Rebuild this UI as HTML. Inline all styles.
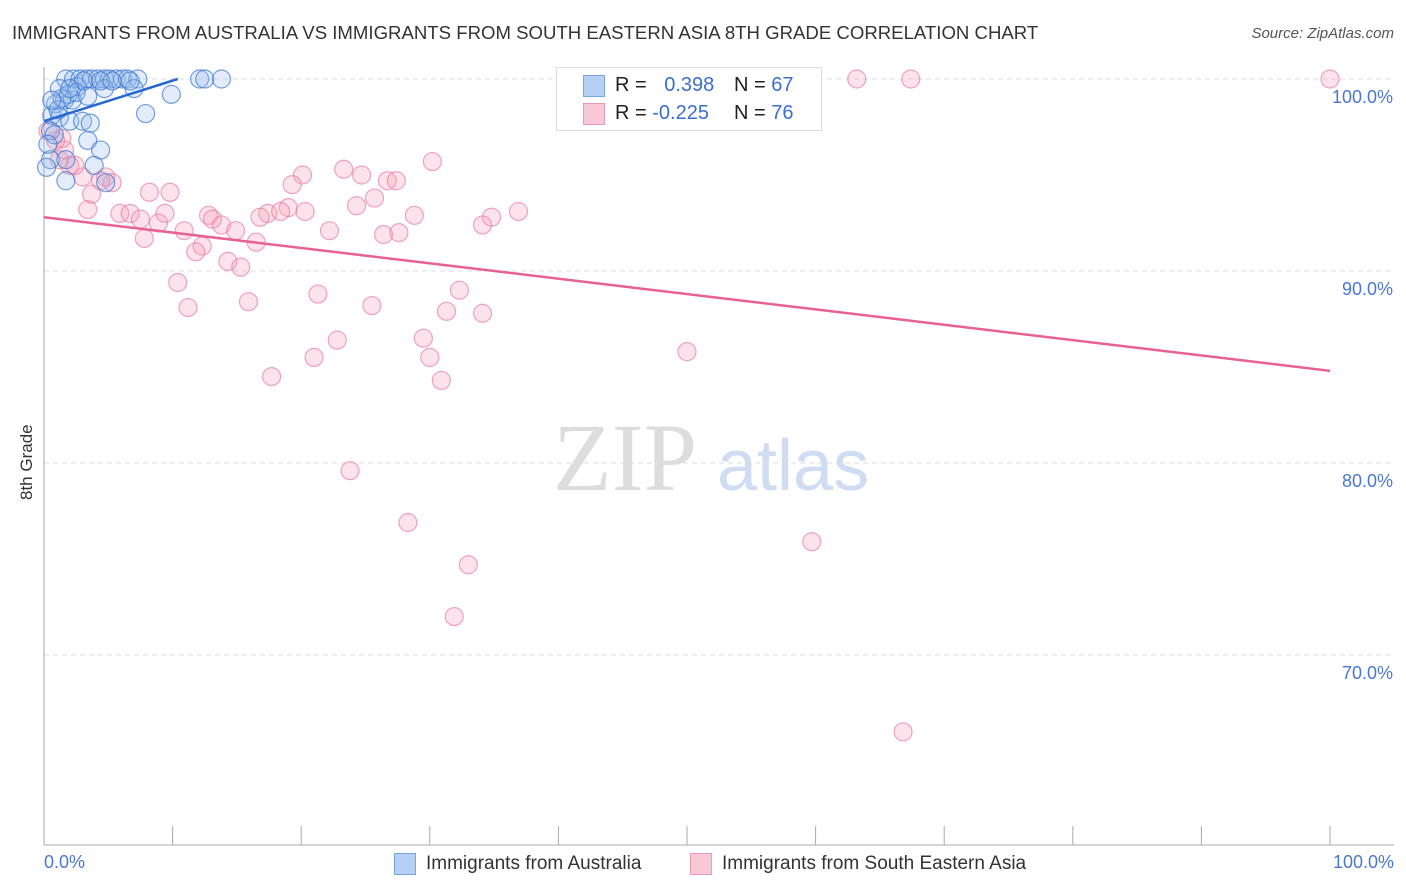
<!DOCTYPE html>
<html><head><meta charset="utf-8">
<style>
body{margin:0;background:#fff;font-family:"Liberation Sans",sans-serif;}
#wrap{position:relative;width:1406px;height:892px;overflow:hidden;}
.t{position:absolute;white-space:nowrap;}
</style></head>
<body>
<div id="wrap">
<div class="t" style="left:12px;top:22px;font-size:18.6px;color:#333;">IMMIGRANTS FROM AUSTRALIA VS IMMIGRANTS FROM SOUTH EASTERN ASIA 8TH GRADE CORRELATION CHART</div>
<div class="t" style="right:12px;top:25px;font-size:15px;color:#555;font-style:italic;">Source: ZipAtlas.com</div>
<svg id="svg" width="1406" height="892" style="position:absolute;left:0;top:0"></svg>
</div>
<script>
const blueX=[1.7,2.3,2.8,3.3,3.7,4.2,4.7,5.1,5.6,6.1,6.5,7.3,12.1,12.5,13.8,1.2,2.6,4.7,7,9.9,0.9,1.6,2.2,1.9,2.5,0.6,1.2,2,3,3.6,7.9,0.5,0.8,3.4,4.4,0.5,1.7,3.9,1.7,4.8,0.2,0.3,1.1,1.4,3.1,4.4,5.3,6.7,2,3.4,0.6];
const blueY=[100,100,100,100,100,100,100,100,100,100,100,100,100,100,100,99.5,99.6,99.5,99.5,99.2,98.7,98.9,98.9,99.2,99.3,98.1,98,97.8,97.8,97.7,98.2,97.3,97.1,96.8,96.3,95.8,95.8,95.5,94.7,94.6,95.4,96.6,98.4,99,99.9,99.9,99.9,99.9,99.5,99.1,98.9];
const pinkX=[63.2,67.4,100,30.2,23.3,24.7,26.7,27.4,20.1,19.3,8.2,9.8,25.7,24.3,19,17.4,18.4,20.3,16.8,5.9,6.7,7.5,9.4,8.9,12.8,13.1,13.8,14.9,28.8,36.9,34.8,34.1,22.2,26.4,27.6,10.9,7.8,16.5,12.3,11.8,14.3,15.3,10.4,32.3,21.3,25.5,15.9,11.2,31.3,34.1,29.5,22.8,30,21,50,17.7,30.9,23.8,28.3,59.7,33,31.9,66.8,3.4,3.7,4.8,5.3,4.4,3,2,1.2,2.4,1.6,0.9,0.3,1.4];
const pinkY=[100,100,100,95.7,95.3,95,94.7,94.7,95,94.5,94.1,94.1,93.8,93.4,93.3,93,93.1,93.1,92.8,93,93,92.7,93,92.5,92.9,92.7,92.4,92.1,92.9,93.1,92.8,92.4,92.1,91.9,92,92.1,91.7,91.5,91.3,91,90.5,90.2,89.4,89,88.8,88.2,88.4,88.1,87.9,87.8,86.5,86.4,85.5,85.5,85.8,84.5,84.3,79.6,76.9,75.9,74.7,72,66,93.2,94,94.9,94.6,94.7,94.9,95.5,95.8,95.5,96.3,96.8,97.3,96.9];
const yTicks=[100,90,80,70];
const yTickLabels=["100.0%","90.0%","80.0%","70.0%"];
const blueTrend=[[0,97.8],[10.4,100]];
const pinkTrend=[[0,92.8],[100,84.8]];

const X0=44,X1=1330,Y100=79,PXPER=19.2;
const sx=v=>X0+(X1-X0)*v/100;
const sy=v=>Y100+(100-v)*PXPER;
const svg=document.getElementById('svg');
const NS='http://www.w3.org/2000/svg';
function mk(tag,attrs){const e=document.createElementNS(NS,tag);for(const k in attrs)e.setAttribute(k,attrs[k]);svg.appendChild(e);return e;}
let w=mk('text',{x:553,y:490,'font-size':96,fill:'#ddd','font-family':'Liberation Serif'});w.textContent='ZIP';


w=mk('text',{x:717,y:490,'font-size':72,fill:'#cfdcf2','font-family':'Liberation Sans'});w.textContent='atlas';


yTicks.forEach((v,i)=>{
 const l=mk('line',{x1:X0,x2:1394,y1:sy(v),y2:sy(v),stroke:'#ddd','stroke-dasharray':'5,4'});
 
 
 const t=mk('text',{x:1393,y:sy(v)+24,'text-anchor':'end','font-size':18,fill:'#4a78d0'});t.textContent=yTickLabels[i];
 
 
});
let ax=mk('line',{x1:X0,x2:X0,y1:67,y2:845,stroke:'#aaa'});


ax=mk('line',{x1:X0,x2:1394,y1:845,y2:845,stroke:'#aaa'});


for(let i=1;i<=10;i++){const l=mk('line',{x1:sx(i*10),x2:sx(i*10),y1:826,y2:845,stroke:'#aaa'});
 
 }
pinkX.forEach((x,i)=>{const c=mk('circle',{cx:sx(x),cy:sy(pinkY[i]),r:9,fill:'rgba(244,160,185,0.3)',stroke:'rgba(230,120,155,0.65)','stroke-width':1.2});
 
 });
blueX.forEach((x,i)=>{const c=mk('circle',{cx:sx(x),cy:sy(blueY[i]),r:9,fill:'rgba(150,188,238,0.28)',stroke:'rgba(60,120,210,0.7)','stroke-width':1.2});
 
 });
let tl=mk('line',{x1:sx(blueTrend[0][0]),y1:sy(blueTrend[0][1]),x2:sx(blueTrend[1][0]),y2:sy(blueTrend[1][1]),stroke:'#2468d0','stroke-width':2.5});


tl=mk('line',{x1:sx(pinkTrend[0][0]),y1:sy(pinkTrend[0][1]),x2:sx(pinkTrend[1][0]),y2:sy(pinkTrend[1][1]),stroke:'#e8628e','stroke-width':2.5});


</script>
<div class="t" style="left:44px;top:852px;font-size:18px;color:#4a78d0">0.0%</div>
<div class="t" style="right:12px;top:852px;font-size:18px;color:#4a78d0">100.0%</div>
<div class="t" style="left:17px;top:500px;font-size:17px;color:#333;transform:rotate(-90deg);transform-origin:0 0">8th Grade</div>
<div style="position:absolute;left:556px;top:67px;width:264px;height:62px;border:1px solid #ddd;background:#fff;font-size:20px;color:#222">
 <div style="position:absolute;left:26px;top:7px;width:20px;height:20px;background:#b6d0f4;border:1px solid #7aa4e0"></div>
 <div class="t" style="left:58px;top:6px">R = <span style="color:#3a6fd0;margin-left:12px">0.398</span></div>
 <div class="t" style="left:177px;top:6px">N = <span style="color:#3a6fd0">67</span></div>
 <div style="position:absolute;left:26px;top:35px;width:20px;height:20px;background:#f9c8d6;border:1px solid #eb9ab4"></div>
 <div class="t" style="left:58px;top:34px">R = <span style="color:#3a6fd0">-0.225</span></div>
 <div class="t" style="left:177px;top:34px">N = <span style="color:#3a6fd0">76</span></div>
</div>
<div style="position:absolute;left:394px;top:853px;width:20px;height:20px;background:#b6d0f4;border:1px solid #7aa4e0"></div>
<div class="t" style="left:426px;top:853px;font-size:19px;color:#333">Immigrants from Australia</div>
<div style="position:absolute;left:690px;top:853px;width:20px;height:20px;background:#f9c8d6;border:1px solid #eb9ab4"></div>
<div class="t" style="left:722px;top:853px;font-size:19px;color:#333">Immigrants from South Eastern Asia</div>
</body></html>
